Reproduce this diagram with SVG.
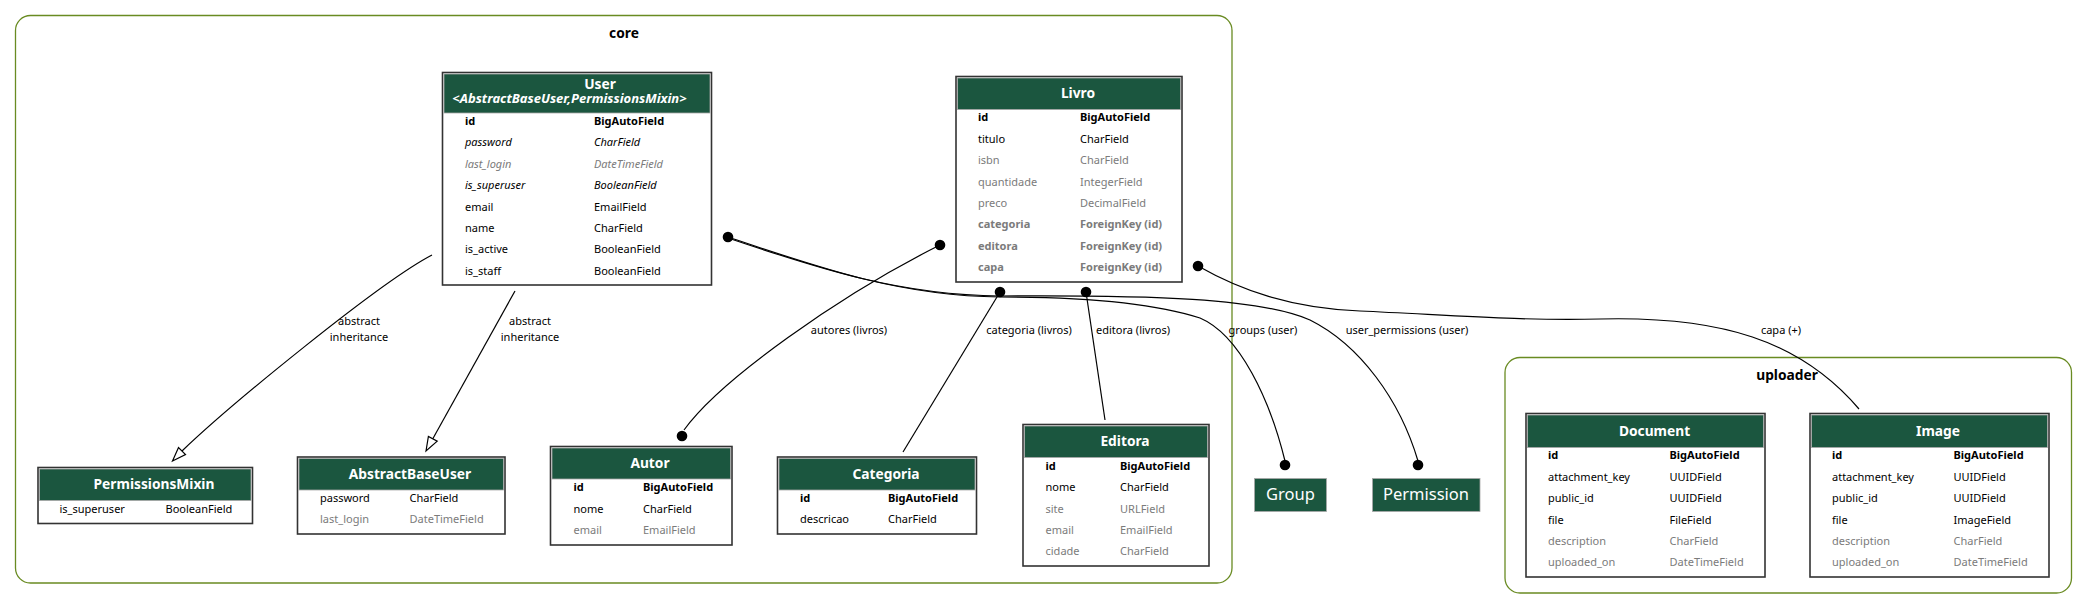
<svg xmlns="http://www.w3.org/2000/svg" width="2087" height="609" viewBox="0 0 2087 609">
<style>
text{font-family:"Noto Sans","DejaVu Sans",sans-serif}
.cl{fill:none;stroke:#698b22;stroke-width:1.3}
.clt{font-size:13.75px;font-weight:bold;text-anchor:middle;fill:#000}
.tb{fill:#fff;stroke:#333;stroke-width:1.6}
.hd{fill:#1b563f;stroke:#a8a8a8;stroke-width:0.8}
.ht{fill:#fff;font-weight:bold;font-size:13.75px;text-anchor:middle}
.hs{font-size:13px}
.f{font-size:11px;fill:#000}
.g{fill:#7b7b7b}
.b{font-weight:bold}
.i{font-style:italic}
.e{fill:none;stroke:#000;stroke-width:1.2}
.dot{fill:#000}
.ar{fill:#fff;stroke:#000;stroke-width:1.2}
.el{font-size:11px;text-anchor:middle;fill:#000}
.ext{fill:#1b563f;stroke:#a8a8a8;stroke-width:0.8}
.ext-t{fill:#fff;font-size:16.5px;text-anchor:middle}
</style>

<g id="cluster-core">
<rect class="cl" x="15.5" y="15.5" width="1216.5" height="567.5" rx="15"/>
<text class="clt" x="624" y="38">core</text>
</g>
<g id="cluster-uploader">
<rect class="cl" x="1505" y="357.5" width="566.5" height="235.5" rx="15"/>
<text class="clt" x="1787" y="380">uploader</text>
</g>

<g id="connectors">
<!-- User -> PermissionsMixin -->
<path class="e" d="M432,255 C380,282 230,405 182,451"/>
<polygon class="ar" points="172.5,461 178.5,447.5 185.5,454.5"/>
<text class="el" x="359" y="325">abstract</text>
<text class="el" x="359" y="341">inheritance</text>
<!-- User -> AbstractBaseUser -->
<path class="e" d="M515,291 L432.8,438.8"/>
<polygon class="ar" points="426,451 428.4,436.4 437.2,441.2"/>
<text class="el" x="530" y="325">abstract</text>
<text class="el" x="530" y="341">inheritance</text>
<!-- Livro -> Autor -->
<path class="e" d="M940,245 C840,295 720,380 684,430"/>
<circle class="dot" cx="940" cy="245" r="5.3"/>
<circle class="dot" cx="682" cy="436" r="5.3"/>
<text class="el" x="849" y="334">autores (livros)</text>
<!-- Livro -> Categoria -->
<path class="e" d="M1000,292 L903,452"/>
<circle class="dot" cx="1000" cy="292" r="5.3"/>
<text class="el" x="1029" y="334">categoria (livros)</text>
<!-- Livro -> Editora -->
<path class="e" d="M1086,292 L1105,420"/>
<circle class="dot" cx="1086" cy="292" r="5.3"/>
<text class="el" x="1133" y="334">editora (livros)</text>
<!-- User -> Group -->
<path class="e" d="M728,237 C820,268 900,296 1000,297 C1100,297 1160,305 1200,318 C1240,335 1270,400 1285,461"/>
<circle class="dot" cx="728" cy="237" r="5.3"/>
<circle class="dot" cx="1285" cy="465" r="5.3"/>
<text class="el" x="1263" y="334">groups (user)</text>
<!-- User -> Permission -->
<path class="e" d="M728,238 C820,269 900,295 1000,296 C1150,295 1260,298 1310,320 C1360,345 1400,400 1418,461"/>
<circle class="dot" cx="1418" cy="465" r="5.3"/>
<text class="el" x="1407" y="334">user_permissions (user)</text>
<!-- Livro -> Image -->
<path class="e" d="M1198,266 C1240,290 1290,308 1360,311 C1450,315 1520,321 1600,319 C1720,316 1800,340 1859,409"/>
<circle class="dot" cx="1198" cy="266" r="5.3"/>
<text class="el" x="1781" y="334">capa (+)</text>
</g>

<g id="node-User">
<rect class="tb" x="442.5" y="72.5" width="269" height="212.5"/>
<rect class="hd" x="444" y="74" width="266" height="39"/>
<text class="ht" x="600" y="89">User</text>
<text class="ht hs i" x="569.5" y="103">&lt;AbstractBaseUser,PermissionsMixin&gt;</text>
<g class="f">
<text x="465" y="125" class="b">id</text><text x="594" y="125" class="b">BigAutoField</text>
<text x="465" y="146.4" class="i">password</text><text x="594" y="146.4" class="i">CharField</text>
<text x="465" y="167.8" class="i g">last_login</text><text x="594" y="167.8" class="i g">DateTimeField</text>
<text x="465" y="189.2" class="i">is_superuser</text><text x="594" y="189.2" class="i">BooleanField</text>
<text x="465" y="210.6">email</text><text x="594" y="210.6">EmailField</text>
<text x="465" y="232">name</text><text x="594" y="232">CharField</text>
<text x="465" y="253.4">is_active</text><text x="594" y="253.4">BooleanField</text>
<text x="465" y="274.8">is_staff</text><text x="594" y="274.8">BooleanField</text>
</g>
</g>

<g id="node-Livro">
<rect class="tb" x="956" y="76.5" width="226" height="205.5"/>
<rect class="hd" x="957.5" y="78" width="223" height="31.5"/>
<text class="ht" x="1078" y="98">Livro</text>
<g class="f">
<text x="978" y="121.3" class="b">id</text><text x="1080" y="121.3" class="b">BigAutoField</text>
<text x="978" y="142.7">titulo</text><text x="1080" y="142.7">CharField</text>
<text x="978" y="164.1" class="g">isbn</text><text x="1080" y="164.1" class="g">CharField</text>
<text x="978" y="185.5" class="g">quantidade</text><text x="1080" y="185.5" class="g">IntegerField</text>
<text x="978" y="206.9" class="g">preco</text><text x="1080" y="206.9" class="g">DecimalField</text>
<text x="978" y="228.3" class="b g">categoria</text><text x="1080" y="228.3" class="b g">ForeignKey (id)</text>
<text x="978" y="249.7" class="b g">editora</text><text x="1080" y="249.7" class="b g">ForeignKey (id)</text>
<text x="978" y="271.1" class="b g">capa</text><text x="1080" y="271.1" class="b g">ForeignKey (id)</text>
</g>
</g>

<g id="node-PermissionsMixin">
<rect class="tb" x="38" y="467.5" width="214.5" height="56"/>
<rect class="hd" x="39.5" y="469" width="211.5" height="31.5"/>
<text class="ht" x="154" y="489">PermissionsMixin</text>
<g class="f">
<text x="59.5" y="513">is_superuser</text><text x="165.5" y="513">BooleanField</text>
</g>
</g>

<g id="node-AbstractBaseUser">
<rect class="tb" x="297.5" y="457" width="207.5" height="77"/>
<rect class="hd" x="299" y="458.5" width="204.5" height="31.5"/>
<text class="ht" x="410" y="478.5">AbstractBaseUser</text>
<g class="f">
<text x="320" y="501.7">password</text><text x="409.5" y="501.7">CharField</text>
<text x="320" y="523.1" class="g">last_login</text><text x="409.5" y="523.1" class="g">DateTimeField</text>
</g>
</g>

<g id="node-Autor">
<rect class="tb" x="550.5" y="446.5" width="181.5" height="98.5"/>
<rect class="hd" x="552" y="448" width="178.5" height="31"/>
<text class="ht" x="650" y="467.5">Autor</text>
<g class="f">
<text x="573.5" y="491.3" class="b">id</text><text x="643" y="491.3" class="b">BigAutoField</text>
<text x="573.5" y="512.7">nome</text><text x="643" y="512.7">CharField</text>
<text x="573.5" y="534.1" class="g">email</text><text x="643" y="534.1" class="g">EmailField</text>
</g>
</g>

<g id="node-Categoria">
<rect class="tb" x="777.5" y="457" width="199" height="77"/>
<rect class="hd" x="779" y="458.5" width="196" height="31.5"/>
<text class="ht" x="886" y="478.5">Categoria</text>
<g class="f">
<text x="800" y="502" class="b">id</text><text x="888" y="502" class="b">BigAutoField</text>
<text x="800" y="523.4">descricao</text><text x="888" y="523.4">CharField</text>
</g>
</g>

<g id="node-Editora">
<rect class="tb" x="1023" y="424.5" width="186" height="141.5"/>
<rect class="hd" x="1024.5" y="426" width="183" height="31.5"/>
<text class="ht" x="1125" y="446">Editora</text>
<g class="f">
<text x="1045.5" y="469.7" class="b">id</text><text x="1120" y="469.7" class="b">BigAutoField</text>
<text x="1045.5" y="491.1">nome</text><text x="1120" y="491.1">CharField</text>
<text x="1045.5" y="512.5" class="g">site</text><text x="1120" y="512.5" class="g">URLField</text>
<text x="1045.5" y="533.9" class="g">email</text><text x="1120" y="533.9" class="g">EmailField</text>
<text x="1045.5" y="555.3" class="g">cidade</text><text x="1120" y="555.3" class="g">CharField</text>
</g>
</g>

<g id="node-Group">
<rect class="ext" x="1254.5" y="478.5" width="72" height="33"/>
<text class="ext-t" x="1290.5" y="500">Group</text>
</g>

<g id="node-Permission">
<rect class="ext" x="1372.5" y="478.5" width="107.5" height="33"/>
<text class="ext-t" x="1426" y="500">Permission</text>
</g>

<g id="node-Document">
<rect class="tb" x="1526" y="413.5" width="239" height="163.5"/>
<rect class="hd" x="1527.5" y="415" width="236" height="32.5"/>
<text class="ht" x="1654.5" y="435.5">Document</text>
<g class="f">
<text x="1548" y="459.3" class="b">id</text><text x="1669.5" y="459.3" class="b">BigAutoField</text>
<text x="1548" y="480.7">attachment_key</text><text x="1669.5" y="480.7">UUIDField</text>
<text x="1548" y="502.1">public_id</text><text x="1669.5" y="502.1">UUIDField</text>
<text x="1548" y="523.5">file</text><text x="1669.5" y="523.5">FileField</text>
<text x="1548" y="544.9" class="g">description</text><text x="1669.5" y="544.9" class="g">CharField</text>
<text x="1548" y="566.3" class="g">uploaded_on</text><text x="1669.5" y="566.3" class="g">DateTimeField</text>
</g>
</g>

<g id="node-Image">
<rect class="tb" x="1810" y="413.5" width="239" height="163.5"/>
<rect class="hd" x="1811.5" y="415" width="236" height="32.5"/>
<text class="ht" x="1938" y="435.5">Image</text>
<g class="f">
<text x="1832" y="459.3" class="b">id</text><text x="1953.5" y="459.3" class="b">BigAutoField</text>
<text x="1832" y="480.7">attachment_key</text><text x="1953.5" y="480.7">UUIDField</text>
<text x="1832" y="502.1">public_id</text><text x="1953.5" y="502.1">UUIDField</text>
<text x="1832" y="523.5">file</text><text x="1953.5" y="523.5">ImageField</text>
<text x="1832" y="544.9" class="g">description</text><text x="1953.5" y="544.9" class="g">CharField</text>
<text x="1832" y="566.3" class="g">uploaded_on</text><text x="1953.5" y="566.3" class="g">DateTimeField</text>
</g>
</g>
</svg>
